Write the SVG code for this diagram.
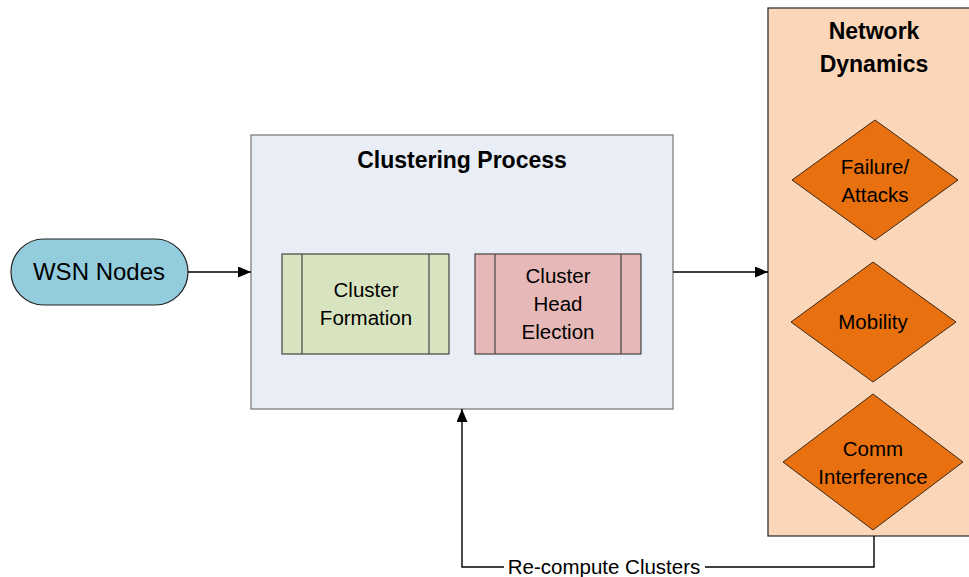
<svg xmlns="http://www.w3.org/2000/svg" width="969" height="577" viewBox="0 0 969 577">
<defs>
<marker id="ah" markerWidth="13" markerHeight="11" refX="13" refY="5.5" orient="auto" markerUnits="userSpaceOnUse">
<path d="M0,0 L13,5.5 L0,11 Z" fill="#000"/>
</marker>
<style>
text{font-family:"Liberation Sans",Arial,sans-serif;fill:#000;text-anchor:middle}
.t{font-size:20.5px}
.b{font-weight:bold;font-size:23px}
.conn{fill:none;stroke:#000;stroke-width:1.4}
.dia{fill:#e8700f;stroke:#3a2a1a;stroke-width:1}
</style>
</defs>
<rect width="969" height="577" fill="#fff"/>
<g id="network-dynamics">
<rect x="768" y="8" width="210" height="528" fill="#fbd6b8" stroke="#333" stroke-width="1.3"/>
<text class="b" x="874" y="39">Network</text>
<text class="b" x="874" y="72">Dynamics</text>
</g>
<g id="failure">
<polygon class="dia" points="875,120 958,180 875,240 792,180"/>
<text class="t" x="875" y="174">Failure/</text>
<text class="t" x="875" y="202">Attacks</text>
</g>
<g id="mobility">
<polygon class="dia" points="873,262 956,322 873,382 791,322"/>
<text class="t" x="873" y="329">Mobility</text>
</g>
<g id="comm">
<polygon class="dia" points="873,394 963,462 873,530 783,462"/>
<text class="t" x="873" y="456">Comm</text>
<text class="t" x="873" y="484">Interference</text>
</g>
<g id="clustering-process">
<rect x="251" y="135" width="422" height="274" fill="#e9edf5" stroke="#7f7f7f" stroke-width="1.3"/>
<text class="b" x="462" y="168">Clustering Process</text>
</g>
<g id="cluster-formation">
<rect x="282" y="254" width="167" height="100" fill="#d8e4bf" stroke="#444" stroke-width="1.2"/>
<line x1="302" y1="254" x2="302" y2="354" stroke="#444" stroke-width="1.2"/>
<line x1="429" y1="254" x2="429" y2="354" stroke="#444" stroke-width="1.2"/>
<text class="t" x="366" y="297">Cluster</text>
<text class="t" x="366" y="325">Formation</text>
</g>
<g id="cluster-head-election">
<rect x="475" y="254" width="166" height="100" fill="#e6b9b8" stroke="#444" stroke-width="1.2"/>
<line x1="495" y1="254" x2="495" y2="354" stroke="#444" stroke-width="1.2"/>
<line x1="621" y1="254" x2="621" y2="354" stroke="#444" stroke-width="1.2"/>
<text class="t" x="558" y="283">Cluster</text>
<text class="t" x="558" y="311">Head</text>
<text class="t" x="558" y="339">Election</text>
</g>
<g id="wsn-nodes">
<rect x="11" y="239" width="177" height="66" rx="33" ry="33" fill="#93cddd" stroke="#222" stroke-width="1.2"/>
<text x="99" y="280" style="font-size:24px">WSN Nodes</text>
</g>
<g id="connectors">
<line class="conn" x1="188" y1="272" x2="251" y2="272" marker-end="url(#ah)"/>
<line class="conn" x1="673" y1="272" x2="768" y2="272" marker-end="url(#ah)"/>
<polyline class="conn" points="874,536 874,567 705,567"/>
<polyline class="conn" points="504,567 462,567 462,409" marker-end="url(#ah)"/>
<text class="t" x="604" y="574">Re-compute Clusters</text>
</g>
</svg>
